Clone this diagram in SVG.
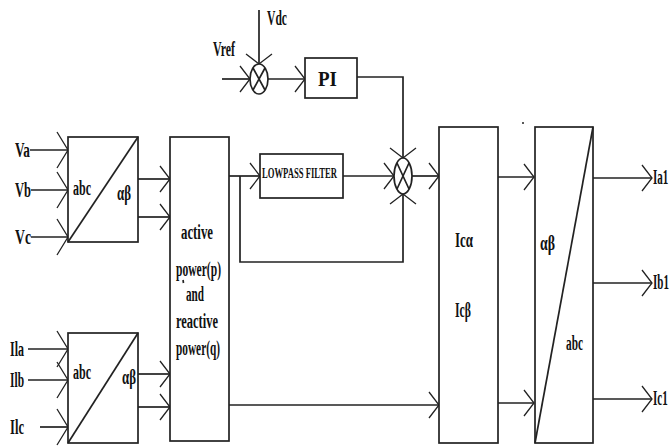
<svg xmlns="http://www.w3.org/2000/svg" width="671" height="446" viewBox="0 0 671 446">
<style>
.b{fill:#fff;stroke:#222;stroke-width:1.7}
.l{fill:none;stroke:#222;stroke-width:1.7}
.t{font-family:"Liberation Serif","Times New Roman",serif;font-weight:bold;font-size:20px;fill:#111}
.s{font-size:15px}
</style>
<defs>
<marker id="a" markerUnits="userSpaceOnUse" markerWidth="24" markerHeight="40" refX="12" refY="20" orient="auto" overflow="visible">
<path d="M2,7 L12,20 L2,33" fill="none" stroke="#222" stroke-width="1.3"/>
</marker>
<marker id="A" markerUnits="userSpaceOnUse" markerWidth="24" markerHeight="44" refX="12" refY="22" orient="auto" overflow="visible">
<path d="M1,4 L12,22 L1,40" fill="none" stroke="#222" stroke-width="1.3"/>
</marker>
</defs>
<rect width="671" height="446" fill="#fff"/>
<g id="connectors">
<line class="l" x1="30" y1="150" x2="68" y2="150" marker-end="url(#A)"/>
<line class="l" x1="31" y1="190" x2="68" y2="190" marker-end="url(#A)"/>
<line class="l" x1="31" y1="237" x2="68" y2="237" marker-end="url(#A)"/>
<line class="l" x1="28" y1="349" x2="68" y2="349" marker-end="url(#A)"/>
<line class="l" x1="28" y1="380" x2="68" y2="380" marker-end="url(#A)"/>
<line class="l" x1="40" y1="427" x2="68" y2="427" marker-end="url(#A)"/>
<line class="l" x1="138" y1="179" x2="170" y2="179" marker-end="url(#a)"/>
<line class="l" x1="138" y1="217" x2="170" y2="217" marker-end="url(#a)"/>
<line class="l" x1="138" y1="374" x2="170" y2="374" marker-end="url(#a)"/>
<line class="l" x1="138" y1="407" x2="170" y2="407" marker-end="url(#a)"/>
<line class="l" x1="259" y1="10" x2="259" y2="64" marker-end="url(#a)"/>
<line class="l" x1="222" y1="79" x2="250" y2="79" marker-end="url(#a)"/>
<line class="l" x1="268" y1="79" x2="305" y2="79" marker-end="url(#a)"/>
<polyline class="l" points="357,77 403,77 403,158" marker-end="url(#a)"/>
<line class="l" x1="229" y1="176" x2="260" y2="176" marker-end="url(#a)"/>
<line class="l" x1="343" y1="176" x2="394" y2="176" marker-end="url(#a)"/>
<polyline class="l" points="240,176 240,262 403,262 403,194" marker-end="url(#a)"/>
<line class="l" x1="412" y1="176" x2="439" y2="176" marker-end="url(#a)"/>
<line class="l" x1="229" y1="405" x2="439" y2="405" marker-end="url(#a)"/>
<line class="l" x1="498" y1="177" x2="534" y2="177" marker-end="url(#a)"/>
<line class="l" x1="498" y1="403" x2="534" y2="403" marker-end="url(#a)"/>
<line class="l" x1="593" y1="178" x2="652" y2="178" marker-end="url(#a)"/>
<line class="l" x1="593" y1="283" x2="652" y2="283" marker-end="url(#a)"/>
<line class="l" x1="593" y1="399" x2="652" y2="399" marker-end="url(#a)"/>
</g>
<g id="sum1">
<ellipse class="b" cx="259" cy="79" rx="9" ry="15"/>
<path class="l" d="M253,68 L265,90 M265,68 L253,90" stroke-width="1.2"/>
</g>
<g id="sum2">
<ellipse class="b" cx="403" cy="176" rx="9" ry="18"/>
<path class="l" d="M397,163 L409,189 M409,163 L397,189" stroke-width="1.2"/>
</g>
<g id="clarke1">
<rect class="b" x="68" y="137" width="70" height="105"/>
<line class="l" x1="138" y1="137" x2="68" y2="242"/>
<text class="t" x="73" y="195" textLength="18" lengthAdjust="spacingAndGlyphs">abc</text>
<text class="t" x="117" y="200" textLength="14" lengthAdjust="spacingAndGlyphs">αβ</text>
</g>
<g id="clarke2">
<rect class="b" x="68" y="333" width="70" height="110"/>
<line class="l" x1="138" y1="333" x2="68" y2="443"/>
<text class="t" x="73" y="379" textLength="18" lengthAdjust="spacingAndGlyphs">abc</text>
<text class="t" x="122" y="384" textLength="14" lengthAdjust="spacingAndGlyphs">αβ</text>
</g>
<g id="power">
<rect class="b" x="170" y="137" width="59" height="304"/>
<text class="t" x="181" y="239" textLength="32" lengthAdjust="spacingAndGlyphs">active</text>
<text class="t" x="176" y="276" textLength="45" lengthAdjust="spacingAndGlyphs">power(p)</text>
<text class="t" x="186" y="301" textLength="18" lengthAdjust="spacingAndGlyphs">and</text>
<text class="t" x="176" y="328" textLength="42" lengthAdjust="spacingAndGlyphs">reactive</text>
<text class="t" x="176" y="355" textLength="44" lengthAdjust="spacingAndGlyphs">power(q)</text>
<line class="l" x1="183" y1="280" x2="183.5" y2="283" stroke-width="1"/>
</g>
<g id="pi">
<rect class="b" x="305" y="58" width="52" height="40"/>
<text class="t" x="318" y="86" textLength="19" lengthAdjust="spacingAndGlyphs">PI</text>
</g>
<g id="lpf">
<rect class="b" x="260" y="154" width="83" height="44"/>
<text class="t s" x="262" y="178" textLength="75" lengthAdjust="spacingAndGlyphs">LOWPASS FILTER</text>
</g>
<g id="ic">
<rect class="b" x="439" y="127" width="59" height="316"/>
<text class="t" x="455" y="247" textLength="18" lengthAdjust="spacingAndGlyphs">Icα</text>
<text class="t" x="455" y="317" textLength="16" lengthAdjust="spacingAndGlyphs">Icβ</text>
</g>
<g id="invclarke">
<rect class="b" x="535" y="127" width="58" height="316"/>
<line class="l" x1="593" y1="127" x2="535" y2="443"/>
<text class="t" x="540" y="250" textLength="15" lengthAdjust="spacingAndGlyphs">αβ</text>
<text class="t" x="566" y="350" textLength="17" lengthAdjust="spacingAndGlyphs">abc</text>
<circle cx="523" cy="123" r="1" fill="#222"/>
</g>
<g id="labels">
<text class="t" x="15" y="157" textLength="15" lengthAdjust="spacingAndGlyphs">Va</text>
<text class="t" x="15" y="197" textLength="16" lengthAdjust="spacingAndGlyphs">Vb</text>
<text class="t" x="15" y="244" textLength="16" lengthAdjust="spacingAndGlyphs">Vc</text>
<text class="t" x="10" y="356" textLength="14" lengthAdjust="spacingAndGlyphs">Ila</text>
<text class="t" x="10" y="387" textLength="14" lengthAdjust="spacingAndGlyphs">Ilb</text>
<text class="t" x="10" y="434" textLength="14" lengthAdjust="spacingAndGlyphs">Ilc</text>
<text class="t" x="213" y="56" textLength="22" lengthAdjust="spacingAndGlyphs">Vref</text>
<text class="t" x="267" y="25" textLength="20" lengthAdjust="spacingAndGlyphs">Vdc</text>
<text class="t" transform="translate(653,184) scale(0.55,1)">Ia1</text>
<text class="t" transform="translate(653,289) scale(0.55,1)">Ib1</text>
<text class="t" transform="translate(653,405) scale(0.55,1)">Ic1</text>
</g>
</svg>
